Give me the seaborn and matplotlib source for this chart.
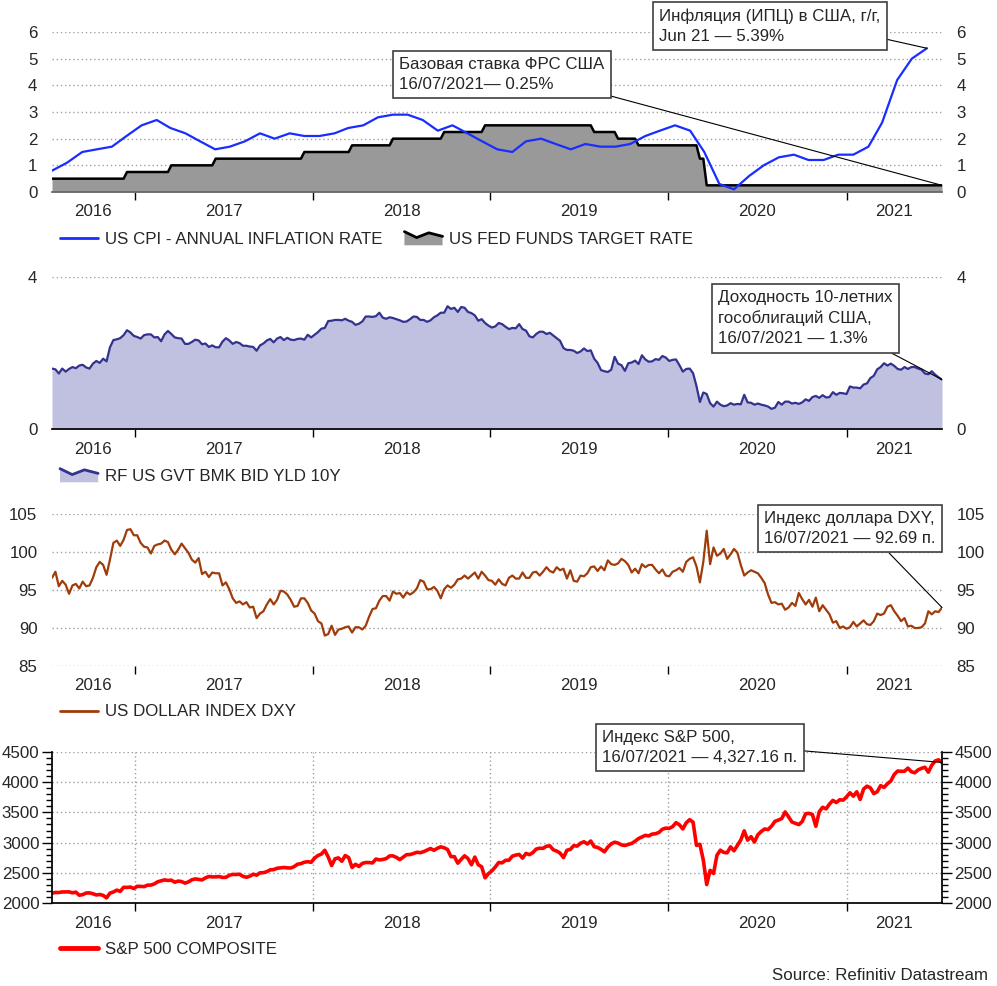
import numpy as np
import pandas as pd
import seaborn as sns
import matplotlib
matplotlib.use("Agg")
import matplotlib.pyplot as plt
from matplotlib.lines import Line2D
from matplotlib.patches import Polygon
from matplotlib.legend_handler import HandlerBase
from matplotlib.ticker import MultipleLocator

sns.set_theme(style="white")
plt.rcParams['font.family'] = ['Liberation Sans', 'DejaVu Sans']
FS = 12.2
plt.rcParams['font.size'] = FS

# US CPI y/y, monthly Jul 2016 .. Jun 2021
cpi = [0.8, 1.1, 1.5, 1.6, 1.7, 2.1,
       2.5, 2.7, 2.4, 2.2, 1.9, 1.6, 1.7, 1.9, 2.2, 2.0, 2.2, 2.1,
       2.1, 2.2, 2.4, 2.5, 2.8, 2.9, 2.9, 2.7, 2.3, 2.5, 2.2, 1.9,
       1.6, 1.5, 1.9, 2.0, 1.8, 1.6, 1.8, 1.7, 1.7, 1.8, 2.1, 2.3,
       2.5, 2.3, 1.5, 0.3, 0.1, 0.6, 1.0, 1.3, 1.4, 1.2, 1.2, 1.4,
       1.4, 1.7, 2.6, 4.2, 5.0, 5.39]

# fed funds target (upper bound) changes
fed_dates = ['2015-12-17', '2016-12-15', '2017-03-16', '2017-06-15', '2017-12-14',
             '2018-03-22', '2018-06-14', '2018-09-27', '2018-12-20', '2019-08-01',
             '2019-09-19', '2019-10-31', '2020-03-04', '2020-03-16']
fed_rate = [0.50, 0.75, 1.00, 1.25, 1.50, 1.75, 2.00, 2.25, 2.50, 2.25, 2.00, 1.75, 1.25, 0.25]

# weekly (Friday) series, 15 Jul 2016 .. 16 Jul 2021
yld10 = [1.59, 1.57, 1.46, 1.59, 1.51, 1.58, 1.63, 1.60, 1.67, 1.69, 1.62, 1.59, 1.72, 1.79, 1.74, 1.85, 1.78, 2.15, 2.34, 2.36, 2.39, 2.47, 2.60, 2.54, 2.45,
         2.42, 2.38, 2.47, 2.49, 2.49, 2.41, 2.42, 2.31, 2.49, 2.58, 2.50, 2.41, 2.39, 2.38, 2.24, 2.24, 2.29, 2.35, 2.33, 2.23, 2.25, 2.16, 2.20, 2.15, 2.15, 2.30,
         2.39, 2.33, 2.24, 2.29, 2.26, 2.19, 2.19, 2.17, 2.16, 2.06, 2.20, 2.25, 2.33, 2.37, 2.28, 2.38, 2.42, 2.34, 2.40, 2.35, 2.34, 2.37, 2.38, 2.35, 2.48, 2.41,
         2.48, 2.55, 2.64, 2.66, 2.84, 2.85, 2.87, 2.87, 2.86, 2.90, 2.85, 2.82, 2.74, 2.77, 2.83, 2.96, 2.96, 2.95, 2.97, 3.06, 2.93, 2.90, 2.94, 2.92, 2.89, 2.86,
         2.82, 2.83, 2.89, 2.96, 2.95, 2.87, 2.87, 2.82, 2.86, 2.94, 2.99, 3.06, 3.06, 3.23, 3.16, 3.19, 3.08, 3.21, 3.19, 3.08, 3.05, 2.99, 2.85, 2.89, 2.79, 2.72,
         2.67, 2.70, 2.79, 2.76, 2.69, 2.63, 2.66, 2.65, 2.76, 2.63, 2.59, 2.44, 2.41, 2.50, 2.56, 2.56, 2.50, 2.53, 2.46, 2.39, 2.32, 2.13, 2.08, 2.08, 2.06, 2.00,
         2.04, 2.12, 2.05, 2.07, 1.85, 1.74, 1.55, 1.52, 1.50, 1.56, 1.90, 1.72, 1.68, 1.53, 1.73, 1.75, 1.80, 1.71, 1.94, 1.83, 1.77, 1.78, 1.84, 1.82, 1.92, 1.88,
         1.79, 1.82, 1.83, 1.68, 1.51, 1.58, 1.59, 1.47, 1.13, 0.71, 0.96, 0.92, 0.68, 0.59, 0.72, 0.64, 0.60, 0.62, 0.68, 0.64, 0.66, 0.65, 0.90, 0.70, 0.69, 0.64,
         0.67, 0.64, 0.62, 0.59, 0.53, 0.56, 0.71, 0.64, 0.72, 0.72, 0.67, 0.69, 0.66, 0.70, 0.78, 0.74, 0.84, 0.87, 0.82, 0.89, 0.83, 0.84, 0.97, 0.90, 0.95, 0.94,
         0.92, 1.12, 1.09, 1.09, 1.07, 1.17, 1.20, 1.34, 1.40, 1.57, 1.63, 1.73, 1.67, 1.72, 1.66, 1.58, 1.56, 1.63, 1.58, 1.63, 1.63, 1.59, 1.56, 1.46, 1.44, 1.52,
         1.43, 1.36, 1.30]

dxy = [96.6, 97.4, 95.5, 96.2, 95.7, 94.5, 95.6, 95.8, 95.2, 96.1, 95.5, 95.6, 96.6, 98.0, 98.7, 98.3, 97.0, 99.0, 101.2, 101.5, 100.8, 101.6, 102.9, 103.0, 102.2,
       102.2, 101.2, 100.7, 100.6, 99.8, 100.8, 101.0, 101.1, 101.5, 101.3, 100.3, 99.7, 100.3, 101.1, 100.5, 99.9, 99.0, 98.6, 99.2, 97.1, 97.4, 96.7, 97.3, 97.2, 97.2, 95.6,
       96.0, 95.1, 93.9, 93.3, 93.5, 93.1, 93.4, 92.7, 92.8, 91.3, 91.9, 92.2, 93.1, 93.8, 93.1, 93.7, 94.9, 94.8, 94.4, 93.7, 92.8, 92.9, 93.9, 93.9, 93.3, 92.3,
       91.9, 90.9, 90.6, 89.0, 89.2, 90.3, 89.1, 89.8, 89.9, 90.1, 90.2, 89.4, 90.1, 90.1, 89.8, 90.3, 91.5, 92.5, 92.6, 93.6, 94.2, 94.2, 93.6, 94.8, 94.5, 94.6,
       94.0, 94.7, 94.4, 94.7, 95.2, 96.3, 96.1, 95.1, 95.1, 95.4, 94.9, 93.9, 95.1, 95.6, 95.3, 95.7, 96.4, 96.5, 96.9, 96.5, 96.9, 97.3, 96.5, 97.4, 96.9, 96.3,
       96.2, 95.7, 96.4, 95.8, 95.6, 96.6, 96.9, 96.5, 96.5, 97.3, 96.6, 96.6, 97.3, 97.4, 96.9, 97.4, 98.0, 97.5, 97.3, 98.0, 97.6, 97.8, 96.5, 97.6, 96.2, 96.1,
       96.9, 96.8, 97.2, 98.0, 98.1, 97.5, 98.1, 97.6, 98.9, 98.4, 98.3, 98.5, 99.1, 98.8, 98.3, 97.3, 97.8, 97.2, 98.4, 98.0, 98.3, 98.3, 97.7, 97.2, 97.7, 96.9,
       96.8, 97.4, 97.6, 97.9, 97.4, 98.7, 99.1, 99.3, 98.1, 96.0, 98.7, 102.8, 98.4, 100.6, 99.5, 99.8, 100.4, 99.1, 99.7, 100.4, 99.9, 98.3, 96.9, 97.3, 97.6, 97.4,
       97.2, 96.6, 95.9, 94.4, 93.3, 93.4, 93.1, 93.2, 92.4, 92.7, 93.3, 92.9, 94.6, 93.8, 93.1, 93.7, 92.8, 94.0, 92.2, 93.0, 92.4, 91.8, 90.7, 90.9, 90.0, 90.2,
       89.9, 90.1, 90.8, 90.2, 90.6, 91.0, 90.5, 90.4, 90.9, 91.9, 91.7, 91.9, 92.8, 93.0, 92.2, 91.6, 90.9, 91.3, 90.2, 90.3, 90.0, 90.0, 90.1, 90.6, 92.2, 91.8,
       92.2, 92.1, 92.69]

sp500 = [2162, 2175, 2173, 2183, 2184, 2184, 2169, 2180, 2128, 2139, 2165, 2168, 2153, 2133, 2141, 2126, 2085, 2164, 2182, 2213, 2192, 2260, 2258, 2264, 2239,
         2277, 2275, 2271, 2295, 2297, 2316, 2351, 2367, 2383, 2373, 2378, 2344, 2363, 2355, 2329, 2349, 2384, 2399, 2391, 2382, 2416, 2439, 2432, 2433, 2438, 2423,
         2425, 2459, 2473, 2472, 2477, 2441, 2426, 2443, 2477, 2461, 2500, 2502, 2519, 2549, 2553, 2575, 2581, 2588, 2582, 2579, 2602, 2642, 2652, 2675, 2684, 2674,
         2743, 2786, 2810, 2873, 2762, 2620, 2732, 2747, 2691, 2786, 2752, 2588, 2641, 2604, 2656, 2670, 2670, 2663, 2728, 2713, 2721, 2735, 2779, 2780, 2755, 2718,
         2760, 2801, 2802, 2819, 2840, 2833, 2850, 2875, 2902, 2872, 2905, 2930, 2914, 2886, 2767, 2768, 2659, 2723, 2781, 2736, 2633, 2760, 2633, 2600, 2417, 2486,
         2532, 2596, 2671, 2665, 2707, 2708, 2776, 2793, 2804, 2743, 2822, 2800, 2834, 2893, 2907, 2905, 2940, 2946, 2881, 2860, 2826, 2752, 2873, 2887, 2950, 2942,
         2990, 3014, 2977, 3026, 2932, 2919, 2889, 2847, 2926, 2979, 3007, 2992, 2962, 2952, 2970, 2986, 3023, 3067, 3093, 3120, 3110, 3141, 3146, 3169, 3221, 3240,
         3235, 3265, 3330, 3295, 3226, 3328, 3380, 3338, 2954, 2972, 2711, 2305, 2541, 2489, 2790, 2875, 2837, 2831, 2930, 2864, 2955, 3044, 3194, 3041, 3098, 3009,
         3130, 3185, 3225, 3216, 3271, 3351, 3373, 3397, 3508, 3427, 3341, 3319, 3298, 3348, 3477, 3484, 3465, 3270, 3510, 3585, 3558, 3638, 3699, 3663, 3709, 3703,
         3756, 3825, 3768, 3841, 3714, 3887, 3934, 3907, 3811, 3842, 3943, 3913, 3975, 4020, 4129, 4185, 4180, 4181, 4233, 4174, 4156, 4204, 4230, 4247, 4166, 4281,
         4352, 4370, 4327]

weeks = pd.date_range(end='2021-07-16', periods=len(sp500), freq='W-FRI')
months = pd.date_range('2016-07-01', periods=len(cpi), freq='MS') + pd.Timedelta(days=14)
fed = pd.Series(fed_rate, index=pd.to_datetime(fed_dates)).reindex(weeks, method='ffill')

W, H = 997, 986
fig = plt.figure(figsize=(W / 100, H / 100), dpi=100)
grid_kw = dict(color='#a0a0a0', linestyle=(0, (1, 2)), linewidth=1)
x0, x1 = weeks[0], weeks[-1]
year_starts = pd.date_range('2017-01-01', '2021-01-01', freq='YS')


def make_ax(top, bottom, ylim, yticks):
    ax = fig.add_axes([52 / W, 1 - bottom / H, 890 / W, (bottom - top) / H])
    ax.set_xlim(x0, x1)
    ax.set_ylim(*ylim)
    ax.set_yticks(yticks)
    ax.set_xticks(year_starts)
    ax.tick_params(axis='x', bottom=True, length=6, width=1, color='black', labelbottom=False, direction='out')
    ax.tick_params(axis='y', left=False, right=False, labelleft=True, labelright=True, pad=4.5, labelsize=FS)
    for s in ax.spines.values():
        s.set_visible(False)
    ax.grid(axis='y', **grid_kw)
    ax.set_axisbelow(True)
    # year labels centred between year boundaries
    bounds = [x0] + list(year_starts) + [x1]
    for a, b in zip(bounds[:-1], bounds[1:]):
        mid = a + (b - a) / 2
        ax.annotate(str(mid.year), xy=(mid, 0), xycoords=('data', 'axes fraction'),
                    xytext=(0, -20), textcoords='offset pixels', ha='center', va='center',
                    fontsize=FS, annotation_clip=False)
    return ax


def callout(ax, text, xy, pos, rel):
    ax.annotate(text, xy=xy, xycoords='data', xytext=(pos[0], H - pos[1]), textcoords='figure pixels',
                ha='left', va='top', fontsize=FS, linespacing=1.42, annotation_clip=False,
                bbox=dict(boxstyle='square,pad=0.38', fc='white', ec='#404040', lw=1.2),
                arrowprops=dict(arrowstyle='-', color='black', lw=0.8, shrinkA=0, shrinkB=0, relpos=rel),
                zorder=10)


class AreaIcon(HandlerBase):
    def __init__(self, face, edge):
        super().__init__()
        self.face, self.edge = face, edge

    def create_artists(self, legend, orig_handle, xdescent, ydescent, width, height, fontsize, trans):
        fx = np.array([0.0, 0.32, 0.64, 1.0]) * width - xdescent
        fy = np.array([1.0, 0.5, 0.9, 0.6]) * height - ydescent
        base = -ydescent - 0.15 * height
        poly = Polygon(np.column_stack([np.r_[fx, fx[-1], fx[0]], np.r_[fy, base, base]]),
                       closed=True, fc=self.face, ec='none', transform=trans)
        ln = Line2D(fx, fy, color=self.edge, lw=2, transform=trans)
        return [poly, ln]


def legend_row(handles, labels, y, hmap=None, ncol=1):
    fig.legend(handles, labels, loc='center left', bbox_to_anchor=(60 / W, 1 - y / H),
               frameon=False, borderpad=0, borderaxespad=0, handlelength=2.25, handletextpad=0.4,
               columnspacing=1.3, ncol=ncol, fontsize=FS, handler_map=hmap or {})


# panel 1: CPI + fed funds
ax1 = make_ax(32, 192, (0, 6), range(0, 7))
ax1.spines['bottom'].set_visible(True)
ax1.spines['bottom'].set_color('#666666')
ax1.fill_between(weeks, fed.values, color='#999999', lw=0, zorder=1)
sns.lineplot(x=weeks, y=fed.values, ax=ax1, color='black', lw=1.8, zorder=2)
sns.lineplot(x=months, y=cpi, ax=ax1, color='#1a2dff', lw=1.6, zorder=3)
callout(ax1, 'Инфляция (ИПЦ) в США, г/г,\nJun 21 — 5.39%', (months[-1], cpi[-1]), (659, 8), (1, 0.16))
callout(ax1, 'Базовая ставка ФРС США\n16/07/2021— 0.25%', (weeks[-1], fed.values[-1]), (399, 57), (0.96, 0))
fed_handle = object()
cpi_handle = Line2D([], [], color='#1a2dff', lw=2)
legend_row([cpi_handle, fed_handle], ['US CPI - ANNUAL INFLATION RATE', 'US FED FUNDS TARGET RATE'], 239,
           {fed_handle: AreaIcon('#999999', 'black')}, ncol=2)

# panel 2: 10y yield
ax2 = make_ax(277, 429, (0, 4), [0, 4])
ax2.spines['bottom'].set_visible(True)
ax2.spines['bottom'].set_color('black')
ax2.fill_between(weeks, yld10, color='#c0c0e0', lw=0, zorder=1)
sns.lineplot(x=weeks, y=yld10, ax=ax2, color='#33338f', lw=1.6, zorder=2)
callout(ax2, 'Доходность 10-летних\nгособлигаций США,\n16/07/2021 — 1.3%', (weeks[-1], yld10[-1]), (718, 290), (0.92, 0))
yld_handle = object()
legend_row([yld_handle], ['RF US GVT BMK BID YLD 10Y'], 476, {yld_handle: AreaIcon('#c0c0e0', '#33338f')})

# panel 3: DXY
ax3 = make_ax(514, 666, (85, 105), range(85, 106, 5))
sns.lineplot(x=weeks, y=dxy, ax=ax3, color='#a03c0a', lw=1.6)
callout(ax3, 'Индекс доллара DXY,\n16/07/2021 — 92.69 п.', (weeks[-1], dxy[-1]), (764, 511), (0.69, 0))
legend_row([Line2D([], [], color='#a03c0a', lw=2)], ['US DOLLAR INDEX DXY'], 712)

# panel 4: S&P 500
ax4 = make_ax(752, 903, (2000, 4500), range(2000, 4501, 500))
for side in ['left', 'right', 'bottom']:
    ax4.spines[side].set_visible(True)
    ax4.spines[side].set_color('black')
ax4.grid(axis='x', **grid_kw)
quarters = [d for d in pd.date_range('2016-04-01', '2021-07-01', freq='QS') if x0 <= d <= x1 and d.month != 1]
ax4.set_xticks(quarters, minor=True)
ax4.tick_params(axis='x', which='minor', length=4, width=1, color='black', direction='out')
ax4.yaxis.set_minor_locator(MultipleLocator(100))
ax4.tick_params(axis='y', which='major', left=True, right=True, length=7, width=1, color='black', pad=2)
ax4.tick_params(axis='y', which='minor', left=True, right=True, length=4, width=1, color='black')
sns.lineplot(x=weeks, y=sp500, ax=ax4, color='#ff0000', lw=2.6)
callout(ax4, 'Индекс S&P 500,\n16/07/2021 — 4,327.16 п.', (weeks[-1], sp500[-1]), (602, 730), (1, 0.42))
legend_row([Line2D([], [], color='#ff0000', lw=3.5)], ['S&P 500 COMPOSITE'], 949)

for ax in (ax1, ax2, ax3, ax4):
    ax.set_xlabel('')
    ax.set_ylabel('')

fig.text(988 / W, 1 - 975 / H, 'Source: Refinitiv Datastream', ha='right', va='center', fontsize=FS)

fig.savefig('out.png', dpi=100)
